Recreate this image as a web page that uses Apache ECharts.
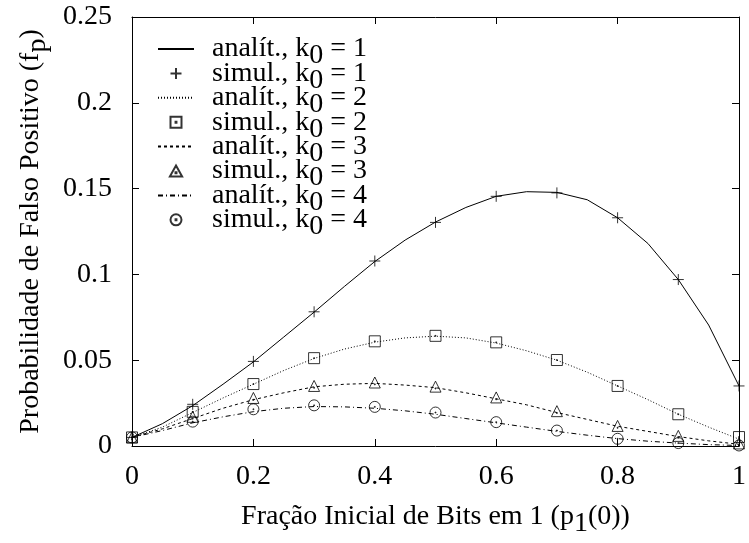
<!DOCTYPE html>
<html>
<head>
<meta charset="utf-8">
<script src="https://cdn.jsdelivr.net/npm/echarts@6/dist/echarts.min.js"></script>
<style>html,body{margin:0;padding:0;background:#fff;}#c{width:749px;height:543px;}</style>
</head>
<body>
<div id="c"></div>
<script>
// ---- data ----
const xAnalytic = [0,0.05,0.1,0.15,0.2,0.25,0.3,0.35,0.4,0.45,0.5,0.55,0.6,0.65,0.7,0.75,0.8,0.85,0.9,0.95,1.0];
const xSimul = [0,0.1,0.2,0.3,0.4,0.5,0.6,0.7,0.8,0.9,1.0];

const analit1 = [0.005,0.013,0.0235,0.036,0.049,0.0635,0.078,0.093,0.1075,0.120,0.1305,0.139,0.1455,0.1482,0.1478,0.1435,0.133,0.118,0.097,0.0705,0.035];
const simul1  = [0.005,0.0243,0.0493,0.0782,0.1078,0.1303,0.1455,0.1475,0.133,0.097,0.035];

const analit2 = [0.005,0.011,0.0195,0.028,0.036,0.044,0.051,0.0565,0.0605,0.063,0.064,0.063,0.060,0.0555,0.050,0.043,0.035,0.027,0.0185,0.011,0.004];
const simul2  = [0.005,0.0199,0.0361,0.0512,0.061,0.0642,0.0604,0.0501,0.035,0.0185,0.0052];

const analit3 = [0.005,0.010,0.016,0.022,0.027,0.031,0.0345,0.036,0.0365,0.0355,0.034,0.031,0.0275,0.024,0.0195,0.0155,0.0115,0.0085,0.0055,0.003,0.001];
const simul3  = [0.005,0.017,0.028,0.035,0.037,0.0346,0.0283,0.0203,0.0117,0.0059,0.0015];

const analit4 = [0.005,0.009,0.0135,0.017,0.020,0.022,0.023,0.0228,0.022,0.0205,0.0185,0.016,0.0135,0.011,0.0085,0.0063,0.0043,0.0028,0.0017,0.0008,0.0003];
const simul4  = [0.005,0.0142,0.0214,0.0237,0.0228,0.0195,0.0139,0.009,0.0042,0.0017,0.0003];

const k0Values = [1,2,3,4];
const xTicks = [0,0.2,0.4,0.6,0.8,1];
const yTicks = [0,0.05,0.1,0.15,0.2,0.25];

// ---- styles ----
const FONT = '"Liberation Serif","DejaVu Serif",serif';
const FS = 28;
const LH = 24;
const pair = (xs, ys) => xs.map((x, i) => [x, ys[i]]);

const dashes = ['solid', [1,2], [3,3], [5,3,1,3]];
const symbols = [
  'path://M5,0L5,10M0,5L10,5',
  'path://M0,0L10,0L10,10L0,10Z M4.6,4.6L5.4,4.6L5.4,5.4L4.6,5.4Z',
  'path://M5,0L10,9L0,9Z M4.6,5.6L5.4,5.6L5.4,6.4L4.6,6.4Z',
  'path://M10,5A5,5,0,1,1,0,5A5,5,0,1,1,10,5Z M4.6,4.6L5.4,4.6L5.4,5.4L4.6,5.4Z'
];

const analitData = [analit1, analit2, analit3, analit4];
const simulData = [simul1, simul2, simul3, simul4];

const series = [];
const legendData = [];
k0Values.forEach((k, i) => {
  series.push({
    name: 'a' + k,
    type: 'line',
    data: pair(xAnalytic, analitData[i]),
    showSymbol: false,
    symbol: 'none',
    smooth: false,
    lineStyle: { color: '#000', width: 1, type: dashes[i] },
    itemStyle: { color: '#000' },
    z: 2
  });
  legendData.push({ name: 'a' + k, itemStyle: { opacity: 0 } });
  series.push({
    name: 's' + k,
    type: 'scatter',
    data: pair(xSimul, simulData[i]),
    symbol: symbols[i],
    symbolSize: 11,
    itemStyle: { color: 'transparent', borderColor: '#000', borderWidth: 1 },
    z: 3
  });
  legendData.push({ name: 's' + k });
});

const rich = {
  p: { fontFamily: FONT, fontSize: FS, color: '#000', lineHeight: LH, verticalAlign: 'middle', padding: [0,0,0,13] },
  a: { fontFamily: FONT, fontSize: FS, color: '#000', lineHeight: LH, verticalAlign: 'middle' },
  s: { fontFamily: FONT, fontSize: FS, color: '#000', lineHeight: LH, height: 10, verticalAlign: 'bottom' }
};

const axisCommon = {
  type: 'value',
  splitLine: { show: false },
  axisLine: { show: true, onZero: false, lineStyle: { color: '#000', width: 1 } },
  axisTick: { show: true, inside: true, length: 7, lineStyle: { color: '#000', width: 1 } }
};

const option = {
  animation: false,
  backgroundColor: '#fff',
  grid: { left: 132, right: 6, top: 17, bottom: 90, containLabel: false },
  legend: {
    orient: 'vertical',
    left: 157,
    top: 35,
    padding: 0,
    itemGap: -10.6,
    itemWidth: 36,
    itemHeight: 11,
    selectedMode: false,
    data: legendData,
    formatter: function (name) {
      const kind = name[0] === 'a' ? 'analít.' : 'simul.';
      return '{p|' + kind + ', k}{s|0}{a| = ' + name.slice(1) + '}';
    },
    textStyle: { fontFamily: FONT, fontSize: FS, color: '#000', rich: rich }
  },
  xAxis: [
    Object.assign({}, axisCommon, {
      position: 'bottom',
      min: xTicks[0], max: xTicks[xTicks.length - 1], interval: 0.2,
      axisLabel: { show: true, margin: 17, color: '#000', fontFamily: FONT, fontSize: FS },
      name: '{a|Fração Inicial de Bits em 1 (p}{s|1}{a|(0))}',
      nameLocation: 'middle',
      nameGap: 59,
      nameTextStyle: { fontFamily: FONT, fontSize: FS, color: '#000', rich: rich }
    }),
    Object.assign({}, axisCommon, {
      position: 'top',
      min: xTicks[0], max: xTicks[xTicks.length - 1], interval: 0.2,
      axisLabel: { show: false }
    })
  ],
  yAxis: [
    Object.assign({}, axisCommon, {
      position: 'left',
      min: yTicks[0], max: yTicks[yTicks.length - 1], interval: 0.05,
      axisLabel: { show: true, margin: 20, color: '#000', fontFamily: FONT, fontSize: FS },
      name: '{a|Probabilidade de Falso Positivo (f}{s|p}{a|)}',
      nameLocation: 'middle',
      nameGap: 88,
      nameRotate: 90,
      nameTextStyle: { fontFamily: FONT, fontSize: FS, color: '#000', rich: rich }
    }),
    Object.assign({}, axisCommon, {
      position: 'right',
      min: yTicks[0], max: yTicks[yTicks.length - 1], interval: 0.05,
      axisLabel: { show: false }
    })
  ],
  series: series
};

const chart = echarts.init(document.getElementById('c'), null, { renderer: 'canvas' });
chart.setOption(option);
</script>
</body>
</html>
